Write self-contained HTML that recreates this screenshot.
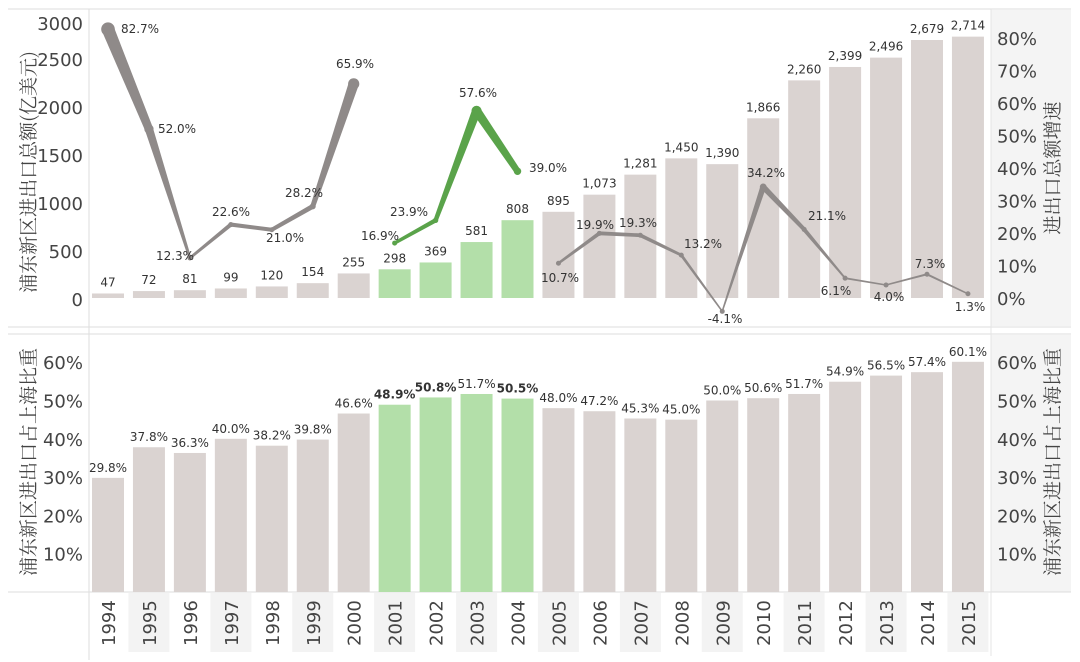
<!DOCTYPE html>
<html><head><meta charset="utf-8"><style>
html,body{margin:0;padding:0;background:#fff;}
svg{display:block;font-family:"DejaVu Sans","Liberation Sans","Noto Sans CJK SC",sans-serif;}
.t{font-family:"Noto Serif CJK SC","WenQuanYi Zen Hei",serif;}
</style></head><body>
<svg id="s" width="1080" height="662" viewBox="0 0 1080 662" xmlns="http://www.w3.org/2000/svg">
<rect x="991" y="10" width="80" height="316" fill="#f4f4f4"/>
<rect x="991" y="335" width="80" height="257" fill="#f4f4f4"/>
<line x1="8" y1="9" x2="1071" y2="9" stroke="#ddd"/>
<line x1="8" y1="327" x2="1071" y2="327" stroke="#ddd"/>
<line x1="8" y1="334" x2="1071" y2="334" stroke="#ddd"/>
<line x1="8" y1="592" x2="1071" y2="592" stroke="#ddd"/>
<line x1="89" y1="9" x2="89" y2="660" stroke="#ddd"/>
<line x1="991" y1="9" x2="991" y2="656" stroke="#e4e4e4"/>
<g id="g"></g>
<text class="t" transform="translate(35,172) rotate(-90)" text-anchor="middle" font-size="19" fill="#444">浦东新区进出口总额(亿美元)</text>
<text class="t" transform="translate(1059,168) rotate(-90)" text-anchor="middle" font-size="19" fill="#444">进出口总额增速</text>
<text class="t" transform="translate(35,462) rotate(-90)" text-anchor="middle" font-size="19" fill="#444">浦东新区进出口占上海比重</text>
<text class="t" transform="translate(1059,462) rotate(-90)" text-anchor="middle" font-size="19" fill="#444">浦东新区进出口占上海比重</text>
</svg>
<script>
var NS="http://www.w3.org/2000/svg",g=document.getElementById('g');
function el(t,a,txt){var e=document.createElementNS(NS,t);for(var k in a)e.setAttribute(k,a[k]);if(txt!==undefined)e.textContent=txt;g.appendChild(e);return e;}
var years=[];for(var y=1994;y<=2015;y++)years.push(y);
var tot=[47,72,81,99,120,154,255,298,369,581,808,895,1073,1281,1450,1390,1866,2260,2399,2496,2679,2714];
var sh=[29.8,37.8,36.3,40.0,38.2,39.8,46.6,48.9,50.8,51.7,50.5,48.0,47.2,45.3,45.0,50.0,50.6,51.7,54.9,56.5,57.4,60.1];
var gr=[82.7,52.0,12.3,22.6,21.0,28.2,65.9,16.9,23.9,57.6,39.0,10.7,19.9,19.3,13.2,-4.1,34.2,21.1,6.1,4.0,7.3,1.3];
function cx(i){return 108+i*40.95;}
function green(i){return i>=7&&i<=10;}
for(var i=0;i<22;i++){ if(i%2==1) el('rect',{x:cx(i)-20.5,y:593,width:41,height:59,fill:'#f3f3f3'}); }
var tk=[[0,306],[500,258],[1000,210],[1500,162],[2000,114],[2500,66],[3000,30]];
tk.forEach(function(t){el('text',{x:83,y:t[1],'text-anchor':'end','font-size':18,fill:'#444'},String(t[0]));});
for(var p=0;p<=80;p+=10) el('text',{x:997,y:305-p*3.25,'font-size':18,fill:'#444'},p+'%');
for(var p=10;p<=60;p+=10){el('text',{x:83,y:599-p*3.83,'text-anchor':'end','font-size':18,fill:'#444'},p+'%');el('text',{x:997,y:599-p*3.83,'font-size':18,fill:'#444'},p+'%');}
for(var i=0;i<22;i++){
 var x=cx(i),h=tot[i]*0.0963,c=green(i)?'#b3dfa9':'#dad3d1';
 el('rect',{x:x-16,y:298-h,width:32,height:h,fill:c});
 el('text',{x:x,y:298-h-7,'text-anchor':'middle','font-size':12,fill:'#333'},tot[i].toLocaleString('en-US'));
 var h2=sh[i]*3.83;
 el('rect',{x:x-16,y:592-h2,width:32,height:h2,fill:c});
 el('text',{x:x,y:592-h2-6,'text-anchor':'middle','font-size':12,fill:'#333','font-weight':(i==7||i==8||i==10)?'bold':'normal'},sh[i].toFixed(1)+'%');
 el('text',{transform:'translate('+(x+7)+',646) rotate(-90)','font-size':18,fill:'#444'},String(years[i]));
}
function py(v){return 298-v*3.25;}
function wd(v){return Math.max(1.5,1+v*0.14);}
function seg(a,b,col){
 for(var i=a;i<b;i++){
  var x1=cx(i),y1=py(gr[i]),x2=cx(i+1),y2=py(gr[i+1]),w1=wd(gr[i])/2,w2=wd(gr[i+1])/2;
  var dx=x2-x1,dy=y2-y1,L=Math.sqrt(dx*dx+dy*dy),nx=-dy/L,ny=dx/L;
  el('polygon',{points:[(x1+nx*w1)+','+(y1+ny*w1),(x2+nx*w2)+','+(y2+ny*w2),(x2-nx*w2)+','+(y2-ny*w2),(x1-nx*w1)+','+(y1-ny*w1)].join(' '),fill:col});
 }
 for(var i=a;i<=b;i++) el('circle',{cx:cx(i),cy:py(gr[i]),r:Math.max(2.5,wd(gr[i])/2+0.5),fill:col});
}
seg(0,6,'#8f8a89');seg(7,10,'#5aa34a');seg(11,21,'#8f8a89');
var L=[[140,33],[177,133],[175,260],[231,216],[285,242],[304,197],[355,68],[380,240],[409,216],[478,97],[548,172],[560,282],[595,229],[638,227],[703,248],[725,323],[766,177],[827,220],[836,295],[889,301],[930,268],[970,311]];
for(var i=0;i<22;i++) el('text',{x:L[i][0],y:L[i][1],'text-anchor':'middle','font-size':12,fill:'#333'},gr[i].toFixed(1)+'%');
</script>
</body></html>
